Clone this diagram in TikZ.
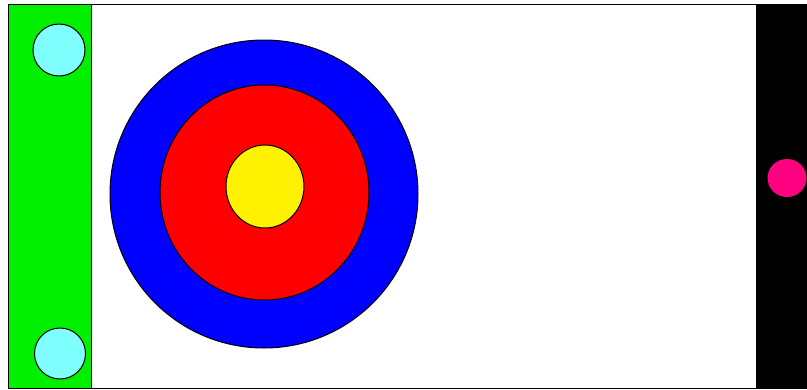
\documentclass[tikz,border=0pt]{standalone}
\usepackage{tikz}
\usetikzlibrary{calc}
\definecolor{padgreen}{RGB}{0,240,0}
\definecolor{ballcyan}{RGB}{128,255,255}
\definecolor{ballpink}{RGB}{255,0,128}
\tikzset{
  edge/.style={draw=black, line width=1pt},
  ring/.style={edge, fill=#1},
  ball/.style={edge, fill=ballcyan}
}
\begin{document}
\begin{tikzpicture}[x=1pt,y=-1pt]
  \useasboundingbox (0,0) rectangle (807,389);
  \clip (0,0) rectangle (807,389);
  \fill[white] (0,0) rectangle (807,389);
  \draw[edge, fill=white] (8,4) rectangle (820,388);
  \draw[edge, fill=padgreen] (8,4) rectangle (91,388);
  \fill[black] (756,4) rectangle (820,388);
  \draw[ball] (59,50) circle [radius=26];
  \draw[ball] (60,353.5) circle [radius=25.5];
  \draw[ring=blue]   (264,194) circle [radius=154];
  \draw[ring=red]    (264.5,192.5) ellipse [x radius=104.5, y radius=107.5];
  \draw[ring=yellow] (265,186.5) ellipse [x radius=39, y radius=41.5];
  \fill[ballpink] (787,178) ellipse [x radius=19.5, y radius=19];
\end{tikzpicture}
\end{document}
